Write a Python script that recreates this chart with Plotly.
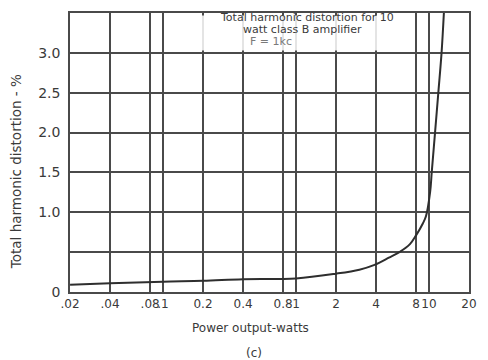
import math
import plotly.graph_objects as go

# Power output (watts) and total harmonic distortion (%)
power_w = [0.02, 0.04, 0.1, 0.2, 0.4, 1, 2, 3.0, 3.9, 5.0, 6.0, 7.2, 8.0, 9.0, 9.5, 10.22, 10.5, 11.12, 11.77, 12.45, 12.96]
thd_pct = [0.09, 0.11, 0.13, 0.14, 0.16, 0.17, 0.23, 0.28, 0.34, 0.43, 0.5, 0.6, 0.71, 0.86, 0.95, 1.26, 1.5, 2.0, 2.5, 3.0, 3.5]

x_tickvals = [0.02, 0.04, 0.08, 0.1, 0.2, 0.4, 0.8, 1, 2, 4, 8, 10, 20]
x_ticktext = [".02", ".04", ".08", ".1", "0.2", "0.4", "0.8", "1", "2", "4", "8", "10", "20"]
y_tickvals = [0, 0.5, 1.0, 1.5, 2.0, 2.5, 3.0, 3.5]
y_ticktext = ["0", "", "1.0", "1.5", "2.0", "2.5", "3.0", ""]

ink = "#3a3a3a"
grid = "#4a4a4a"
font_family = "DejaVu Sans"

fig = go.Figure()
fig.add_trace(go.Scatter(
    x=power_w, y=thd_pct, mode="lines",
    line=dict(color="#2e2e2e", width=2, shape="spline", smoothing=1.0),
    hoverinfo="skip", showlegend=False,
))

# faded label panel in the top row
fig.add_shape(type="rect", xref="x", yref="y", x0=0.15, x1=6.0, y0=3.03, y1=3.47,
              fillcolor="white", opacity=0.85, line_width=0, layer="between")

fig.update_xaxes(
    type="log", range=[math.log10(0.02) - 0.0005, math.log10(20) + 0.0005],
    tickvals=x_tickvals, ticktext=x_ticktext, tickangle=0,
    showgrid=True, gridcolor=grid, gridwidth=1.6,
    showline=True, linecolor=grid, linewidth=1.6, mirror=True,
    ticks="", zeroline=False,
    tickfont=dict(family=font_family, size=12, color=ink),
)
fig.update_yaxes(
    range=[0, 3.5],
    tickvals=y_tickvals, ticktext=y_ticktext,
    showgrid=True, gridcolor=grid, gridwidth=1.6,
    showline=True, linecolor=grid, linewidth=1.6, mirror=True,
    ticks="", zeroline=False, ticklabelstandoff=5,
    tickfont=dict(family=font_family, size=14, color=ink),
)

fig.add_annotation(text="Total harmonic distortion - %", textangle=-90,
                   xref="paper", yref="paper", x=-0.135, y=0.43,
                   xanchor="center", yanchor="middle", showarrow=False,
                   font=dict(family=font_family, size=13.5, color=ink))
fig.add_annotation(text="Power output-watts", xref="paper", yref="paper",
                   x=0.453, y=-0.13, xanchor="center", yanchor="middle", showarrow=False,
                   font=dict(family=font_family, size=12, color=ink))
fig.add_annotation(text="(c)", xref="paper", yref="paper", x=0.462, y=-0.218,
                   xanchor="center", yanchor="middle", showarrow=False,
                   font=dict(family=font_family, size=12, color=ink))

# panel caption (x positions in log10 units of the log axis)
fig.add_annotation(text="Total harmonic distortion for 10", xref="x", yref="y",
                   x=0.081, y=3.44, showarrow=False,
                   font=dict(family=font_family, size=11, color=ink))
fig.add_annotation(text="watt class B amplifier", xref="x", yref="y",
                   x=0.051, y=3.29, showarrow=False,
                   font=dict(family=font_family, size=11, color=ink))
fig.add_annotation(text="F = 1kc", xref="x", yref="y",
                   x=-0.185, y=3.14, showarrow=False,
                   font=dict(family=font_family, size=11, color="#7a7a7a"))

fig.update_layout(
    width=488, height=360,
    margin=dict(l=70, r=11, t=12, b=68),
    paper_bgcolor="white", plot_bgcolor="white",
    showlegend=False,
)

fig.write_html("out.html")
